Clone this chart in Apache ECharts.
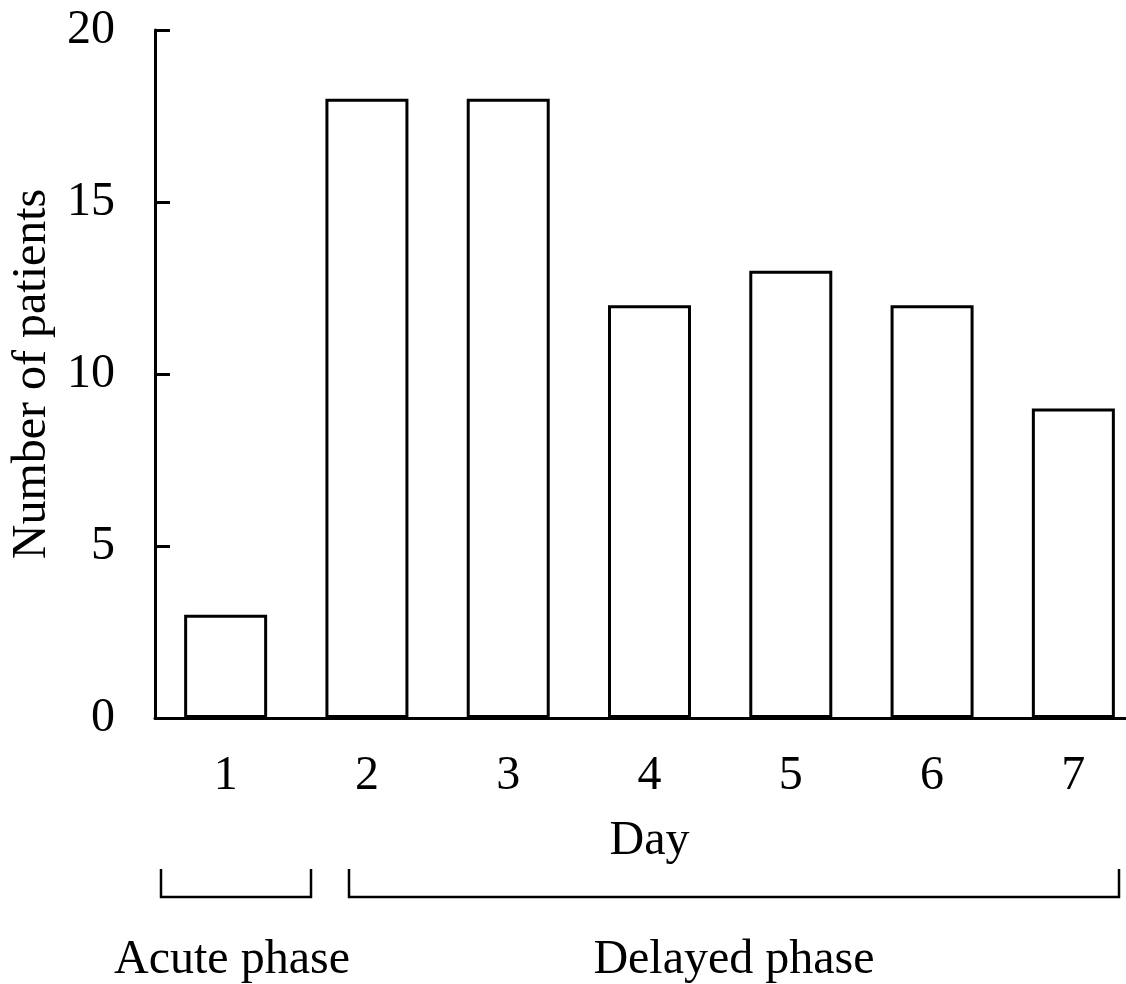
<!DOCTYPE html>
<html>
<head>
<meta charset="utf-8">
<script src="https://cdn.jsdelivr.net/npm/echarts@6/dist/echarts.min.js"></script>
<style>
html,body{margin:0;padding:0;background:#fff;overflow:hidden;}
#chart{width:1126px;height:984px;}
</style>
</head>
<body>
<div id="chart"></div>
<script>
const days = ['1','2','3','4','5','6','7'];
const patients = [3, 18, 18, 12, 13, 12, 9];
const yTicks = { min: 0, max: 20, interval: 5 };
const phaseLabels = ['Acute phase', 'Delayed phase'];

const FONT = '"Liberation Serif", "Times New Roman", serif';
const chart = echarts.init(document.getElementById('chart'), null, { renderer: 'canvas' });

const option = {
  backgroundColor: '#fff',
  animation: false,
  grid: { left: 155, top: 30, width: 989, height: 688, containLabel: false, outerBoundsMode: 'none' },
  xAxis: {
    type: 'category',
    data: days,
    name: 'Day',
    nameLocation: 'middle',
    nameGap: 99,
    nameTextStyle: { fontFamily: FONT, fontSize: 48, color: '#000' },
    axisLine: { show: true, lineStyle: { color: '#000', width: 3 } },
    axisTick: { show: false },
    axisLabel: { fontFamily: FONT, fontSize: 48, color: '#000', margin: 34 },
    splitLine: { show: false }
  },
  yAxis: {
    type: 'value',
    min: yTicks.min,
    max: yTicks.max,
    interval: yTicks.interval,
    name: 'Number of patients',
    nameLocation: 'middle',
    nameGap: 85,
    nameTextStyle: { fontFamily: FONT, fontSize: 48, color: '#000' },
    axisLine: { show: true, lineStyle: { color: '#000', width: 3 } },
    axisTick: { show: true, inside: true, length: 15, lineStyle: { color: '#000', width: 3 } },
    axisLabel: { fontFamily: FONT, fontSize: 48, color: '#000', margin: 40 },
    splitLine: { show: false }
  },
  series: [{
    type: 'bar',
    data: patients,
    barWidth: 83,
    itemStyle: { color: '#fff', borderColor: '#000', borderWidth: 3 },
    silent: true
  }]
};
chart.setOption(option);

function bracket(x1, x2) {
  return {
    type: 'polyline',
    shape: { points: [[x1, 869], [x1, 897], [x2, 897], [x2, 869]] },
    style: { stroke: '#000', lineWidth: 2.5, fill: null },
    silent: true
  };
}
chart.setOption({
  graphic: [
    bracket(161, 311),
    bracket(349, 1119),
    {
      type: 'text', x: 232, y: 984,
      style: { text: phaseLabels[0], font: '48px ' + FONT, fill: '#000', align: 'center', verticalAlign: 'bottom' },
      silent: true
    },
    {
      type: 'text', x: 734, y: 984,
      style: { text: phaseLabels[1], font: '48px ' + FONT, fill: '#000', align: 'center', verticalAlign: 'bottom' },
      silent: true
    }
  ]
});
</script>
</body>
</html>
